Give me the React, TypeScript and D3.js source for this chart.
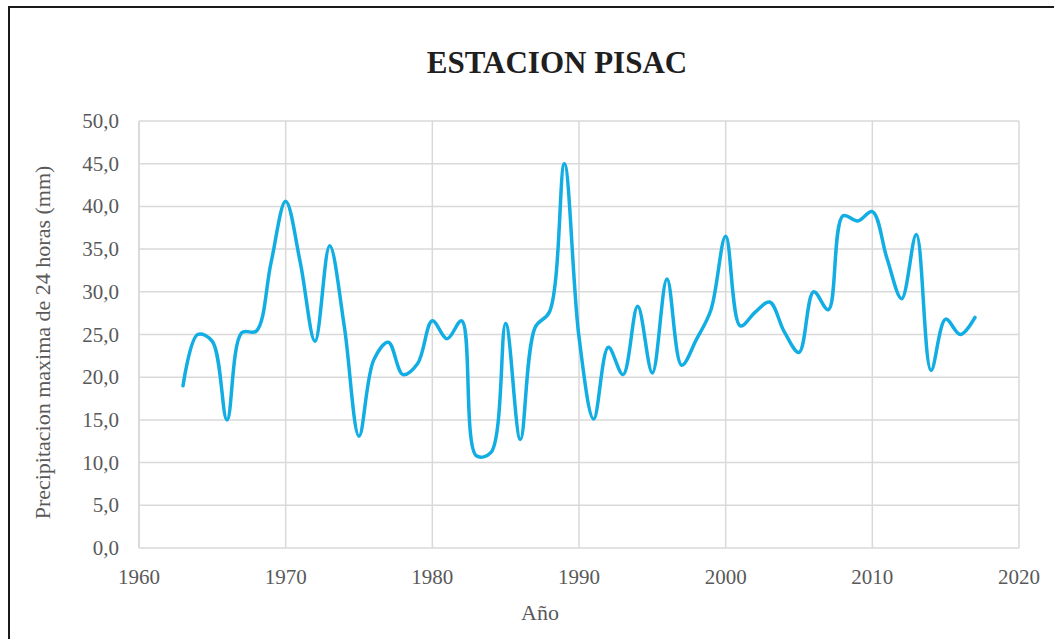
import React from "react";
import * as d3 from "d3";

const years = [
  1963, 1964, 1965, 1966, 1967, 1968, 1969, 1970, 1971, 1972, 1973, 1974, 1975, 1976, 1977, 1978, 1979,
  1980, 1981, 1982, 1983, 1984, 1985, 1986, 1987, 1988, 1989, 1990, 1991, 1992, 1993, 1994, 1995, 1996,
  1997, 1998, 1999, 2000, 2001, 2002, 2003, 2004, 2005, 2006, 2007, 2008, 2009, 2010, 2011, 2012, 2013,
  2014, 2015, 2016, 2017,
];
const values = [
  19.0, 25.0, 24.2, 15.0, 25.2, 25.4, 33.4, 40.6, 33.4, 24.2, 35.4, 25.9, 13.1, 22.0, 24.1, 20.3, 21.6,
  26.6, 24.5, 26.6, 10.8, 11.2, 26.3, 12.7, 25.8, 27.7, 45.0, 24.7, 15.1, 23.5, 20.3, 28.3, 20.5, 31.5,
  21.4, 24.4, 27.9, 36.5, 26.0, 27.6, 28.8, 25.3, 22.9, 30.0, 27.9, 38.9, 38.3, 39.4, 33.9, 29.2, 36.7,
  20.8, 26.8, 25.0, 27.0,
];
const xTicks = [1960, 1970, 1980, 1990, 2000, 2010, 2020];
const yTicks = [0, 5, 10, 15, 20, 25, 30, 35, 40, 45, 50];

const title = "ESTACION PISAC";
const xTitle = "Año";
const yTitle = "Precipitacion maxima de 24 horas (mm)";

export default function App() {
  const W = 1054;
  const H = 639;
  const left = 139;
  const right = 1019;
  const top = 121;
  const bottom = 548;
  const x = d3.scaleLinear().domain([1960, 2020]).range([left, right]);
  const y = d3.scaleLinear().domain([0, 50]).range([bottom, top]);
  const pts: [number, number][] = years.map((yr, i) => [yr, values[i]]);
  const line = d3
    .line<[number, number]>()
    .x((d) => x(d[0]))
    .y((d) => y(d[1]))
    .curve(d3.curveCatmullRom.alpha(0.5));
  const fmt = (v: number) => v.toFixed(1).replace(".", ",");
  const font = "'Liberation Serif', 'Times New Roman', serif";
  const grid = "#d9d9d9";
  const txt = "#595959";
  return (
    <svg
      width={W}
      height={H}
      style={{ position: "absolute", left: 0, top: 0, background: "#fff" }}
      fontFamily={font}
    >
      <rect x={0} y={0} width={W} height={H} fill="#fff" />
      <rect x={9} y={7} width={1200} height={800} fill="none" stroke="#1a1a1a" strokeWidth={2} />
      {yTicks.map((t) => (
        <line key={"gy" + t} x1={left} x2={right} y1={y(t)} y2={y(t)} stroke={grid} strokeWidth={1.5} />
      ))}
      {xTicks.map((t) => (
        <line key={"gx" + t} x1={x(t)} x2={x(t)} y1={top} y2={bottom} stroke={grid} strokeWidth={1.5} />
      ))}
      <line x1={left} x2={left} y1={top} y2={bottom} stroke={grid} strokeWidth={1.5} />
      {yTicks.map((t) => (
        <text key={"ly" + t} x={119} y={y(t) + 7} textAnchor="end" fontSize={21} fill={txt}>
          {fmt(t)}
        </text>
      ))}
      {xTicks.map((t) => (
        <text key={"lx" + t} x={x(t)} y={584} textAnchor="middle" fontSize={21} fill={txt}>
          {t}
        </text>
      ))}
      <path d={line(pts) || ""} fill="none" stroke="#12aee3" strokeWidth={3.5} strokeLinecap="round" strokeLinejoin="round" />
      <text x={557} y={73} textAnchor="middle" fontSize={31} fontWeight="bold" fill="#1f1f1f">
        {title}
      </text>
      <text x={540} y={620} textAnchor="middle" fontSize={22} fill={txt}>
        {xTitle}
      </text>
      <text
        transform={`translate(50, ${(top + bottom) / 2 + 8}) rotate(-90)`}
        textAnchor="middle"
        fontSize={22}
        fill={txt}
      >
        {yTitle}
      </text>
    </svg>
  );
}
